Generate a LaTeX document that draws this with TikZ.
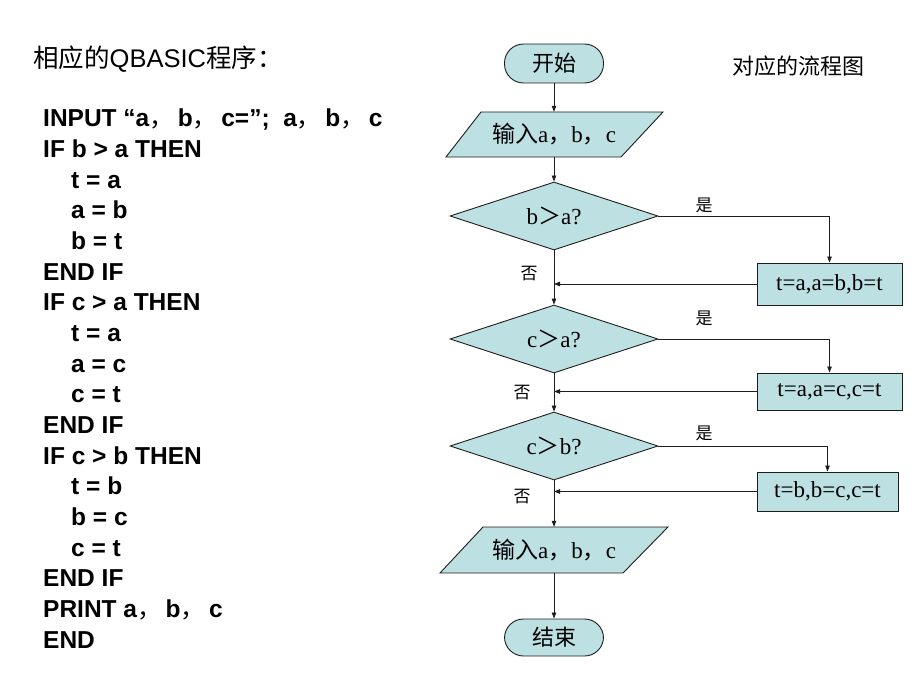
\documentclass[tikz,border=0pt]{standalone}
\usepackage{fontspec}
\setmainfont{Liberation Serif}
\newfontfamily\cjk{Noto Sans CJK SC}
\newfontfamily\arial{Liberation Sans}
\usetikzlibrary{shapes.geometric,arrows.meta}
\definecolor{fc}{RGB}{189,224,227}
\definecolor{ln}{RGB}{30,30,30}
\newcommand\zc{{\cjk\mdseries ，}}
\newcommand\zcc{{\cjk\mdseries ，}\hspace{4pt}}
\begin{document}
\begin{tikzpicture}[x=1pt,y=-1pt,
  box/.style={draw=ln, fill=fc, line width=0.9pt, inner sep=0pt},
  term/.style={box, rectangle, rounded corners=19pt, minimum width=99pt, minimum height=39pt, font=\cjk\fontsize{22}{26}\selectfont},
  dec/.style={box, diamond, aspect=3.06, minimum width=208pt, minimum height=68pt, font=\fontsize{23}{27}\selectfont},
  proc/.style={box, rectangle, font=\fontsize{23}{27}\selectfont},
  txt/.style={inner sep=0pt, font=\fontsize{23}{27}\selectfont},
  lab/.style={inner sep=0pt, font=\cjk\fontsize{17}{19}\selectfont},
  code/.style={anchor=base west, inner sep=0pt, font=\arial\bfseries\fontsize{24.5}{28}\selectfont},
  arr/.style={draw=ln, line width=0.8pt, -{Triangle[length=6pt,width=4.5pt]}},
  conn/.style={draw=ln, line width=0.8pt}]
\useasboundingbox (0,0) rectangle (920,690);

% left program text
\node[anchor=base west, inner sep=0pt, font=\fontsize{25.5}{29}\selectfont] (title) at (33,68) {{\cjk 相应的}{\arial QBASIC}{\cjk 程序：}};
\node[code] (c1) at (43,127.0) {INPUT “a\zcc b\zcc c=”;\ \ a\zcc b\zcc c};
\node[code] (c2) at (43,157.6) {IF b > a THEN};
\node[code] (c3) at (71,188.3) {t = a};
\node[code] (c4) at (71,218.9) {a = b};
\node[code] (c5) at (71,249.6) {b = t};
\node[code] (c6) at (43,280.2) {END IF};
\node[code] (c7) at (43,310.9) {IF c > a THEN};
\node[code] (c8) at (71,341.5) {t = a};
\node[code] (c9) at (71,372.2) {a = c};
\node[code] (c10) at (71,402.8) {c = t};
\node[code] (c11) at (43,433.5) {END IF};
\node[code] (c12) at (43,464.1) {IF c > b THEN};
\node[code] (c13) at (71,494.8) {t = b};
\node[code] (c14) at (71,525.4) {b = c};
\node[code] (c15) at (71,556.1) {c = t};
\node[code] (c16) at (43,586.7) {END IF};
\node[code] (c17) at (43,617.4) {PRINT a\zcc b\zcc c};
\node[code] (c18) at (43,648.0) {END};

% flowchart caption
\node[inner sep=0pt, font=\cjk\fontsize{22}{26}\selectfont] (cap) at (798,66) {对应的流程图};

% flowchart
\node[term] (start) at (554,63.5) {开始};

\draw[box] (481,112) -- (663,112) -- (621,157) -- (446,157) -- cycle;
\node[txt, minimum height=45pt] (in1) at (554,134.5) {{\cjk 输入}a\zc b\zc c};

\node[dec] (d1) at (554,216) {b{\cjk ＞}a?};
\node[dec] (d2) at (554,339) {c{\cjk ＞}a?};
\node[dec] (d3) at (554,446) {c{\cjk ＞}b?};

\node[proc, minimum width=145pt, minimum height=42pt] (b1) at (829.5,284) {t=a,a=b,b=t};
\node[proc, minimum width=145pt, minimum height=37pt] (b2) at (829.5,391.5) {t=a,a=c,c=t};
\node[proc, minimum width=141pt, minimum height=39pt] (b3) at (827.5,491.5) {t=b,b=c,c=t};

\draw[box] (483,527) -- (668,527) -- (623,573) -- (440,573) -- cycle;
\node[txt, minimum height=46pt] (out) at (554,550) {{\cjk 输入}a\zc b\zc c};

\node[term, minimum height=37pt] (end) at (554,637.5) {结束};

% main flow
\draw[arr] (start.south) -- (in1.north);
\draw[arr] (in1.south) -- (d1.north);
\draw[arr] (d1.south) -- (d2.north);
\draw[arr] (d2.south) -- (d3.north);
\draw[arr] (d3.south) -- (out.north);
\draw[arr] (out.south) -- (end.north);

% yes branches
\draw[arr] (d1.east) -| (b1.north);
\draw[arr] (d2.east) -| (b2.north);
\draw[arr] (d3.east) -| (b3.north);

% return lines
\coordinate (j1) at (d1.south |- b1.west);
\coordinate (j2) at (d2.south |- b2.west);
\coordinate (j3) at (d3.south |- b3.west);
\draw[arr] (b1.west) -- (j1);
\draw[arr] (b2.west) -- (j2);
\draw[arr] (b3.west) -- (j3);

% labels
\node[lab] (y1) at (704,205) {是};
\node[lab] (y2) at (704,318) {是};
\node[lab] (y3) at (704,433) {是};
\node[lab] (n1) at (529,274) {否};
\node[lab] (n2) at (522,393) {否};
\node[lab] (n3) at (522,497) {否};
\end{tikzpicture}
\end{document}
